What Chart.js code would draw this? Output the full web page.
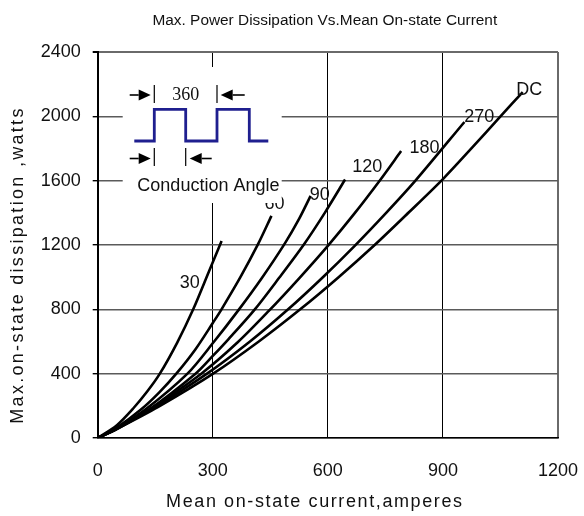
<!DOCTYPE html>
<html><head><meta charset="utf-8">
<script src="https://cdn.jsdelivr.net/npm/chart.js@4/dist/chart.umd.min.js"></script>
<style>html,body{margin:0;padding:0;background:#fff}</style>
</head><body>
<canvas id="c" width="584" height="516"></canvas>
<script>
// ---- data ----
const curveNames = ['30', '60', '90', '120', '180', '270', 'DC'];
const x30  = [0, 50, 93, 130, 162, 207, 249, 290, 323];
const y30  = [0, 80, 185, 292, 400, 592, 800, 1035, 1225];
const x60  = [0, 50, 112, 160, 205, 255, 300, 322, 372, 418, 453];
const y60  = [0, 65, 175, 282, 400, 552, 715, 797, 1000, 1205, 1381];
const x90  = [0, 50, 125, 234, 302, 367, 428, 488, 525, 555];
const y90  = [0, 60, 178, 400, 595, 795, 995, 1210, 1362, 1505];
const x120 = [0, 50, 133, 255, 300, 340, 408, 473, 538, 592, 645];
const y120 = [0, 56, 175, 400, 510, 612, 795, 996, 1205, 1400, 1607];
const x180 = [0, 50, 140, 270, 365, 446, 524, 600, 668, 735, 791];
const y180 = [0, 58, 185, 400, 595, 790, 990, 1195, 1392, 1600, 1784];
const x270 = [0, 50, 150, 285, 397, 495, 585, 670, 752, 830, 956];
const y270 = [0, 59, 192, 400, 600, 797, 995, 1195, 1400, 1605, 1965];
const xDC  = [0, 50, 158, 301, 420, 528, 628, 722, 812, 900, 976, 1050, 1108];
const yDC  = [0, 57, 194, 400, 600, 800, 1000, 1200, 1405, 1610, 1805, 2000, 2151];
// curve label anchors (data coordinates)
const labelX = [240, 461, 579, 703, 852, 995, 1125];
const labelY = [963, 1457, 1509, 1683, 1804, 1994, 2161];
const xTicks = [0, 300, 600, 900, 1200];
const yTicks = [0, 400, 800, 1200, 1600, 2000, 2400];
const titleText = 'Max. Power Dissipation Vs.Mean On-state Current';
const xTitle = 'Mean on-state current,amperes';
const yTitle = 'Max.on-state dissipation ,watts';
const insetTop = '360';
const insetBottom = 'Conduction Angle';

const xs = [x30, x60, x90, x120, x180, x270, xDC];
const ys = [y30, y60, y90, y120, y180, y270, yDC];

const datasets = curveNames.map((n, i) => ({
  label: n,
  data: xs[i].map((x, j) => ({x: x, y: ys[i][j]})),
  showLine: true,
  borderColor: '#000',
  borderWidth: 2.6,
  pointRadius: 0,
  tension: 0.3,
  fill: false
}));

const SANS = '"Liberation Sans", Arial, sans-serif';

function arrow(ctx, xTail, xTip, y) {
  const dir = Math.sign(xTip - xTail);
  const base = xTip - dir * 12;
  ctx.beginPath();
  ctx.moveTo(xTail, y); ctx.lineTo(base, y); ctx.stroke();
  ctx.beginPath();
  ctx.moveTo(xTip, y); ctx.lineTo(base, y - 5.5); ctx.lineTo(base, y + 5.5); ctx.closePath(); ctx.fill();
}

const decor = {
  id: 'decor',
  afterDatasetsDraw(chart) {
    const ctx = chart.ctx, xs_ = chart.scales.x, ys_ = chart.scales.y, a = chart.chartArea;
    ctx.save();
    // curve labels
    ctx.fillStyle = '#111';
    ctx.font = '18px ' + SANS;
    ctx.textAlign = 'center'; ctx.textBaseline = 'middle';
    curveNames.forEach((n, i) => {
      ctx.fillText(n, xs_.getPixelForValue(labelX[i]), ys_.getPixelForValue(labelY[i]));
    });
    // inset
    const L = a.left, T = a.top;
    ctx.fillStyle = '#fff';
    ctx.fillRect(L + 25, T + 15, 159, 136);
    // square wave
    ctx.strokeStyle = '#1f1f8f'; ctx.lineWidth = 2.8;
    ctx.beginPath();
    const hi = T + 57.3, lo = T + 89;
    ctx.moveTo(L + 36.6, lo); ctx.lineTo(L + 56.6, lo); ctx.lineTo(L + 56.6, hi);
    ctx.lineTo(L + 88, hi); ctx.lineTo(L + 88, lo); ctx.lineTo(L + 119.3, lo);
    ctx.lineTo(L + 119.3, hi); ctx.lineTo(L + 151.6, hi); ctx.lineTo(L + 151.6, lo);
    ctx.lineTo(L + 170.6, lo);
    ctx.stroke();
    // tick marks and arrows
    ctx.strokeStyle = '#000'; ctx.fillStyle = '#000'; ctx.lineWidth = 1.2;
    ctx.beginPath();
    ctx.moveTo(L + 56.6, T + 33); ctx.lineTo(L + 56.6, T + 51);
    ctx.moveTo(L + 119.3, T + 33); ctx.lineTo(L + 119.3, T + 51);
    ctx.moveTo(L + 56.6, T + 96); ctx.lineTo(L + 56.6, T + 114);
    ctx.moveTo(L + 88, T + 96); ctx.lineTo(L + 88, T + 114);
    ctx.stroke();
    ctx.lineWidth = 1.6;
    arrow(ctx, L + 32, L + 53, T + 43);
    arrow(ctx, L + 147, L + 123, T + 43);
    arrow(ctx, L + 32, L + 53, T + 106.5);
    arrow(ctx, L + 114, L + 92, T + 106.5);
    ctx.fillStyle = '#111';
    ctx.font = '18px "Liberation Serif", "Times New Roman", serif';
    ctx.textAlign = 'center'; ctx.textBaseline = 'middle';
    ctx.fillText(insetTop, L + 88, T + 43.5);
    ctx.font = '18px ' + SANS;
    ctx.textBaseline = 'alphabetic';
    ctx.fillText(insetBottom, L + 110.7, T + 138.7);
    ctx.restore();
  },
  afterDraw(chart) {
    const ctx = chart.ctx, a = chart.chartArea;
    ctx.save();
    ctx.fillStyle = '#111';
    ctx.textAlign = 'center'; ctx.textBaseline = 'middle';
    ctx.font = '15.4px "Liberation Sans Narrow", "Arial Narrow", ' + SANS;
    ctx.fillText(titleText, (a.left + a.right) / 2 - 3, 21);
    ctx.font = '18px ' + SANS;
    ctx.letterSpacing = '1.6px';
    ctx.fillText(xTitle, (a.left + a.right) / 2 - 13, 502);
    ctx.translate(18, (a.top + a.bottom) / 2 + 20);
    ctx.rotate(-Math.PI / 2);
    ctx.letterSpacing = '2.3px';
    ctx.fillText(yTitle, 0, 0);
    ctx.restore();
  }
};

new Chart(document.getElementById('c'), {
  type: 'scatter',
  data: {datasets},
  plugins: [decor],
  options: {
    responsive: false,
    devicePixelRatio: 1,
    animation: false,
    layout: {padding: {top: 52, right: 26, left: 0, bottom: 0}},
    plugins: {legend: {display: false}, title: {display: false}, tooltip: {enabled: false}},
    scales: {
      x: {
        type: 'linear', min: 0, max: 1200,
        afterBuildTicks: s => { s.ticks = xTicks.map(v => ({value: v})); },
        afterFit: s => { s.height = 78; s.paddingLeft = 0; s.paddingRight = 0; },
        ticks: {font: {family: SANS, size: 18}, color: '#111', padding: 22, maxRotation: 0,
                callback: v => String(v)},
        grid: {
          drawTicks: false,
          color: c => (c.tick && c.tick.value === 1200) ? '#6a6a6a' : '#000',
          lineWidth: c => (c.tick && c.tick.value === 1200) ? 2 : 1
        },
        border: {color: '#000', width: 1.5}
      },
      y: {
        type: 'linear', min: 0, max: 2400,
        afterBuildTicks: s => { s.ticks = yTicks.map(v => ({value: v})); },
        afterFit: s => { s.width = 97.7; s.paddingTop = 0; s.paddingBottom = 0; },
        ticks: {font: {family: SANS, size: 18}, color: '#111', padding: 12,
                callback: v => String(v)},
        grid: {
          tickLength: 5,
          tickColor: '#000',
          color: c => (c.tick && c.tick.value === 2400) ? '#6a6a6a' : '#5a5a5a',
          lineWidth: c => (c.tick && c.tick.value === 2400) ? 2 : 1.4
        },
        border: {color: '#000', width: 2}
      }
    }
  }
});
</script>
</body></html>
